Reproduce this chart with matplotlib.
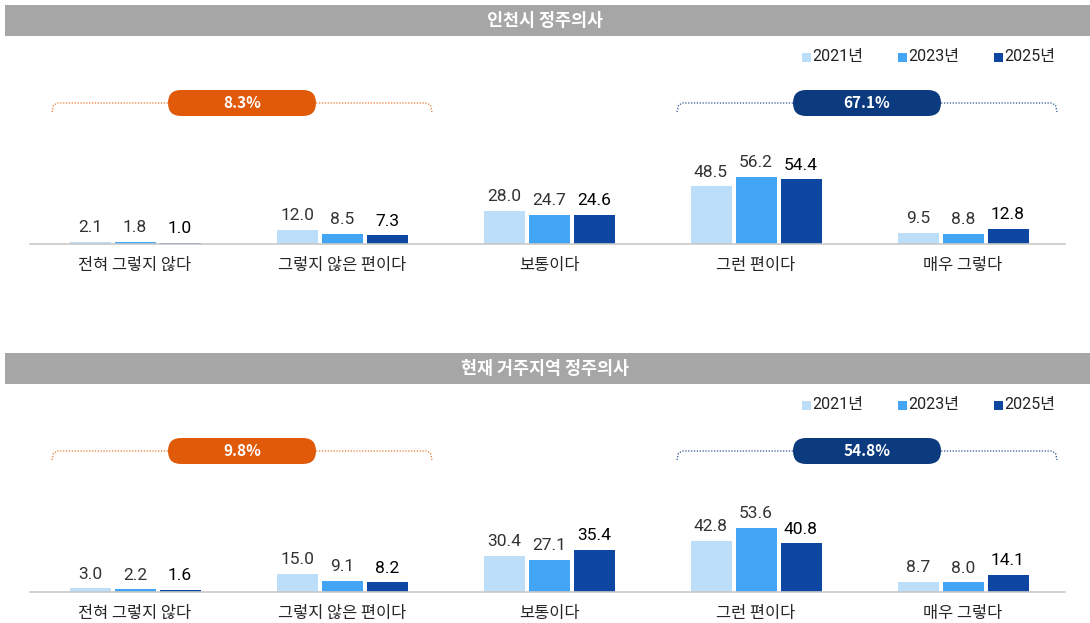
import numpy as np
import matplotlib.pyplot as plt
from matplotlib.patches import Rectangle, FancyBboxPatch

plt.rcParams['font.family'] = ['Noto Sans CJK KR', 'DejaVu Sans']

categories = ['전혀 그렇지 않다', '그렇지 않은 편이다', '보통이다', '그런 편이다', '매우 그렇다']
years = ['2021년', '2023년', '2025년']
colors = ['#bddef8', '#43a5f5', '#0e47a1']

titles = ['인천시 정주의사', '현재 거주지역 정주의사']
incheon = {
    '2021년': [2.1, 12.0, 28.0, 48.5, 9.5],
    '2023년': [1.8, 8.5, 24.7, 56.2, 8.8],
    '2025년': [1.0, 7.3, 24.6, 54.4, 12.8],
}
region = {
    '2021년': [3.0, 15.0, 30.4, 42.8, 8.7],
    '2023년': [2.2, 9.1, 27.1, 53.6, 8.0],
    '2025년': [1.6, 8.2, 35.4, 40.8, 14.1],
}
# 2025 negative / positive totals shown in the pills
neg_total = [8.3, 9.8]
pos_total = [67.1, 54.8]

W, H = 1090, 623
fig = plt.figure(figsize=(W / 100, H / 100), dpi=100)

# overlay in pixel coords for headers, legend, brackets
ov = fig.add_axes([0, 0, 1, 1])
ov.set_xlim(0, W)
ov.set_ylim(H, 0)
ov.axis('off')


def bracket(y, x0, x1, color):
    xs = [x0, x0 + 1.5, x0 + 6, x1 - 6, x1 - 1.5, x1]
    ys = [y + 9, y + 2, y, y, y + 2, y + 9]
    ov.plot(xs, ys, color=color, lw=0.9, ls=(0, (1, 1.3)), solid_capstyle='butt')


def pill(cx, cy, text, color):
    w, h = 148, 26
    ov.add_patch(FancyBboxPatch((cx - w / 2, cy - h / 2), w, h,
                                boxstyle=f'round,pad=0,rounding_size={h / 2}',
                                fc=color, ec='none', zorder=3))
    ov.text(cx, cy + 0.5, text, color='white', fontsize=11, fontweight='bold',
            ha='center', va='center', zorder=4)


def panel(top, data, title, neg, pos):
    # header band
    ov.add_patch(Rectangle((5, top), W - 5, 31, fc='#a6a6a6', ec='none'))
    ov.text(W / 2, top + 15.5, title, color='white', fontsize=12.5,
            fontweight='bold', ha='center', va='center')

    # legend
    ly = top + 52
    for i, (yr, c) in enumerate(zip(years, colors)):
        lx = 806 + 96 * i
        ov.add_patch(Rectangle((lx - 4.5, ly - 4.5), 9, 9, fc=c, ec='none'))
        ov.text(lx + 6, ly, yr, fontsize=11.5, color='#222222', ha='left', va='center',
                family=['Roboto', 'Noto Sans CJK KR'])

    by = top + 98
    bracket(by, 52, 432, '#e8762a')
    bracket(by, 677, 1057, '#2a4f8f')
    pill(242, by, f'{neg}%', '#e05a0a')
    pill(867, by, f'{pos}%', '#0c3a7e')

    # bars
    base = top + 239
    px_per_unit = 1.19
    h_px = 120
    ax = fig.add_axes([30 / W, (H - base) / H, 1035 / W, h_px / H])
    ax.set_xlim(-105 / 207, 930 / 207)
    ax.set_ylim(0, h_px / px_per_unit)
    x = np.arange(len(categories))
    bw = 41 / 207
    step = 45 / 207
    for i, (yr, c) in enumerate(zip(years, colors)):
        vals = data[yr]
        bars = ax.bar(x + (i - 1) * step, vals, width=bw, color=c, zorder=2)
        for b, v in zip(bars, vals):
            ax.annotate(f'{v:.1f}', (b.get_x() + b.get_width() / 2, v),
                        xytext=(0, 7), textcoords='offset points',
                        ha='center', va='baseline', fontsize=12.5,
                        color='#000000' if i == 2 else '#333333',
                        family=['Roboto', 'DejaVu Sans'])
    for s in ['top', 'right', 'left']:
        ax.spines[s].set_visible(False)
    ax.spines['bottom'].set_color('#c8c8c8')
    ax.spines['bottom'].set_linewidth(1.2)
    ax.set_yticks([])
    ax.set_xticks(x)
    ax.set_xticklabels(categories, fontsize=11.8, color='#262626')
    ax.tick_params(axis='x', length=0, pad=9.5)
    ax.patch.set_alpha(0)


panel(5, incheon, titles[0], neg_total[0], pos_total[0])
panel(353, region, titles[1], neg_total[1], pos_total[1])

fig.savefig('out.png', dpi=100)
